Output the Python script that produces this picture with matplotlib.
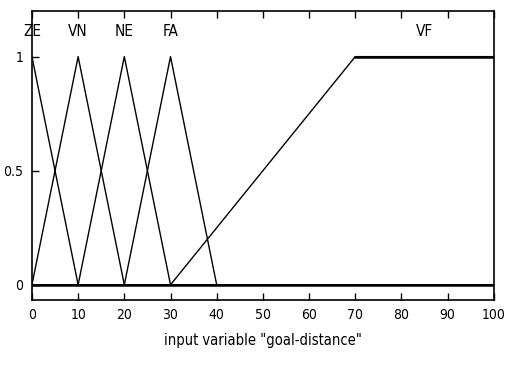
import numpy as np
import matplotlib
matplotlib.use("Agg")
import matplotlib.pyplot as plt

plt.rcParams['font.family'] = ['DejaVu Sans']
plt.rcParams['font.stretch'] = 'condensed'

# membership functions of "goal-distance"
mf_names = ["ZE", "VN", "NE", "FA", "VF"]
mf_x = [[0, 10, 100],
        [0, 10, 20, 100],
        [0, 10, 20, 30, 100],
        [0, 20, 30, 40, 100],
        [0, 30, 70, 100]]
mf_y = [[1, 0, 0],
        [0, 1, 0, 0],
        [0, 0, 1, 0, 0],
        [0, 0, 1, 0, 0],
        [0, 0, 1, 1]]
label_x = [0, 10, 20, 30, 85]
xticks = np.arange(0, 101, 10)
yticks = [0, 0.5, 1]

fig = plt.figure(figsize=(5.07, 3.67), dpi=100)
ax = fig.add_axes([0.063, 0.183, 0.911, 0.787])

for xs, ys in zip(mf_x, mf_y):
    ax.plot(xs, ys, color="black", linewidth=1.0)
ax.plot([0, 100], [0, 0], color="black", linewidth=1.8)
ax.plot([70, 100], [1, 1], color="black", linewidth=1.8)

for name, lx in zip(mf_names, label_x):
    ax.text(lx, 1.11, name, ha="center", va="center", fontsize=11)

ax.set_xlim(0, 100)
ax.set_ylim(-0.066, 1.2)
ax.set_xticks(xticks)
ax.set_yticks(yticks)
ax.set_yticklabels(["0", "0.5", "1"])
ax.tick_params(direction="in", top=True, right=False, length=5, width=1,
               labelsize=10, pad=6)
for s in ax.spines.values():
    s.set_linewidth(1.2)
ax.set_xlabel('input variable "goal-distance"', fontsize=10.5, labelpad=8)

plt.savefig("out.png", dpi=100)
